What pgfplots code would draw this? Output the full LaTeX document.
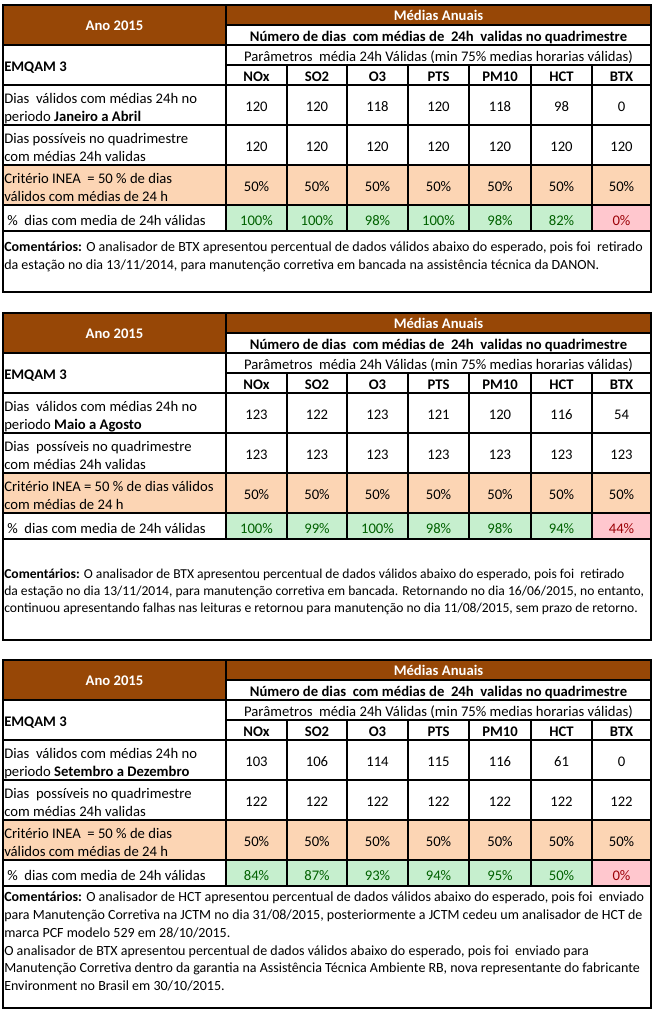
\documentclass[border=0pt]{standalone}
\usepackage{pgfplots}
\pgfplotsset{compat=1.18}
\usepackage{pgfplotstable}
\usepackage{fontspec}
\setmainfont{Carlito}
\definecolor{brownc}{RGB}{151,71,6}
\definecolor{orangec}{RGB}{252,213,180}
\definecolor{goodfill}{RGB}{198,239,206}
\definecolor{goodtext}{RGB}{0,97,0}
\definecolor{badfill}{RGB}{255,199,206}
\definecolor{badtext}{RGB}{156,0,6}
\newcommand\fs{\fontsize{11pt}{13pt}\selectfont}
\newcommand\fc{\fontsize{10.5pt}{12.5pt}\selectfont}
\newcommand\fcs{\fontsize{10.2pt}{12pt}\selectfont}
\tikzset{every node/.style={font=\fs, inner sep=0pt}, grid/.style={line width=0.8pt, black},
  cmtline/.style={anchor=base west, font=\fc}, cmtsmall/.style={anchor=base west, font=\fcs}}

% quadrimestre 1
\pgfplotstableread{
x     valid  poss  crit  pct
256.5 120    120   50    100
317   120    120   50    100
377.5 118    120   50    98
438.5 120    120   50    100
500   118    120   50    98
561.5 98     120   50    82
621.5 0      120   50    0
}\tabA
% quadrimestre 2
\pgfplotstableread{
x     valid  poss  crit  pct
256.5 123    123   50    100
317   122    123   50    99
377.5 123    123   50    100
438.5 121    123   50    98
500   120    123   50    98
561.5 116    123   50    94
621.5 54     123   50    44
}\tabB
% quadrimestre 3
\pgfplotstableread{
x     valid  poss  crit  pct
256.5 103    122   50    84
317   106    122   50    87
377.5 114    122   50    93
438.5 115    122   50    94
500   116    122   50    95
561.5 61     122   50    50
621.5 0      122   50    0
}\tabC

\pgfplotsset{vals/.style={only marks, mark=none,
  point meta=explicit symbolic, nodes near coords,
  every node near coord/.style={anchor=base, inner sep=0pt, font=\fs, text=black}}}

\newcommand\drawblock[7]{%
 \fill[brownc] (axis cs:3,{#1+5}) rectangle (axis cs:651,{#1+25});
 \fill[brownc] (axis cs:3,{#1+5}) rectangle (axis cs:226,{#1+45});
 \fill[orangec] (axis cs:3,{#1+165}) rectangle (axis cs:651,{#1+205});
 \fill[goodfill] (axis cs:226,{#1+205}) rectangle (axis cs:592,{#1+231});
 \fill[badfill] (axis cs:592,{#1+205}) rectangle (axis cs:651,{#1+231});
 \draw[grid] (axis cs:226,{#1+5}) -- (axis cs:226,{#1+231})
   (axis cs:226,{#1+25}) -- (axis cs:651,{#1+25})
   (axis cs:3,{#1+45}) -- (axis cs:651,{#1+45})
   (axis cs:226,{#1+65}) -- (axis cs:651,{#1+65})
   (axis cs:3,{#1+85}) -- (axis cs:651,{#1+85})
   (axis cs:3,{#1+125}) -- (axis cs:651,{#1+125})
   (axis cs:3,{#1+165}) -- (axis cs:651,{#1+165})
   (axis cs:3,{#1+205}) -- (axis cs:651,{#1+205})
   (axis cs:3,{#1+231}) -- (axis cs:651,{#1+231})
   (axis cs:287,{#1+65}) -- (axis cs:287,{#1+231})
   (axis cs:347,{#1+65}) -- (axis cs:347,{#1+231})
   (axis cs:408,{#1+65}) -- (axis cs:408,{#1+231})
   (axis cs:469,{#1+65}) -- (axis cs:469,{#1+231})
   (axis cs:531,{#1+65}) -- (axis cs:531,{#1+231})
   (axis cs:592,{#1+65}) -- (axis cs:592,{#1+231});
 \draw[line width=1.6pt] (axis cs:3,{#1+5}) rectangle (axis cs:651,#2);
 \node[anchor=base, text=white] at (axis cs:114.5,{#1+30}) {\textbf{Ano 2015}};
 \node[anchor=base, text=white] at (axis cs:438.5,{#1+20}) {\textbf{Médias Anuais}};
 \node[anchor=base] at (axis cs:438.5,{#1+41}) {\textbf{Número de dias\ \ com médias de\ \ 24h\ \ validas no quadrimestre}};
 \node[anchor=base] at (axis cs:438.5,{#1+61.5}) {Parâmetros\ \ média 24h Válidas (min 75\% medias horarias válidas)};
 \node[anchor=base] at (axis cs:256.5,{#1+81.5}) {\textbf{NOx}};
 \node[anchor=base] at (axis cs:317,{#1+81.5}) {\textbf{SO2}};
 \node[anchor=base] at (axis cs:377.5,{#1+81.5}) {\textbf{O3}};
 \node[anchor=base] at (axis cs:438.5,{#1+81.5}) {\textbf{PTS}};
 \node[anchor=base] at (axis cs:500,{#1+81.5}) {\textbf{PM10}};
 \node[anchor=base] at (axis cs:561.5,{#1+81.5}) {\textbf{HCT}};
 \node[anchor=base] at (axis cs:621.5,{#1+81.5}) {\textbf{BTX}};
 \node[anchor=base west] at (axis cs:4,{#1+71.5}) {\textbf{EMQAM 3}};
 \node[anchor=base west] at (axis cs:4,{#1+103}) {Dias\ \ válidos com médias 24h no};
 \node[anchor=base west] at (axis cs:4,{#1+121}) {periodo \textbf{#4}};
 \node[anchor=base west] at (axis cs:4,{#1+143}) {#5};
 \node[anchor=base west] at (axis cs:4,{#1+161}) {com médias 24h validas};
 \node[anchor=base west] at (axis cs:4,{#1+183}) {#6};
 \node[anchor=base west] at (axis cs:4,{#1+201}) {#7};
 \node[anchor=base west] at (axis cs:7,{#1+225}) {\%\ \ dias com media de 24h válidas};
 \addplot[vals] table[x=x, y expr={#1+111.5}, meta=valid] {#3};
 \addplot[vals] table[x=x, y expr={#1+151.5}, meta=poss] {#3};
 \addplot[vals, nodes near coords={\pgfplotspointmeta\%}] table[x=x, y expr={#1+191.5}, meta=crit] {#3};
 \addplot[vals, nodes near coords={\pgfplotspointmeta\%}, every node near coord/.append style={text=goodtext}, skip coords between index={6}{7}] table[x=x, y expr={#1+225}, meta=pct] {#3};
 \addplot[vals, nodes near coords={\pgfplotspointmeta\%}, every node near coord/.append style={text=badtext}, skip coords between index={0}{6}] table[x=x, y expr={#1+225}, meta=pct] {#3};
}

\begin{document}
\begin{tikzpicture}
\begin{axis}[scale only axis, width=489.75pt, height=757.5pt,
  xmin=0, xmax=653, ymin=0, ymax=1010, y dir=reverse, hide axis, clip=false]
\fill[white] (axis cs:0,0) rectangle (axis cs:653,1010);
\drawblock{0}{292}{\tabA}{Janeiro a Abril}{Dias possíveis no quadrimestre}{Critério INEA\ \ = 50 \% de dias}{válidos com médias de 24 h}
\drawblock{308}{640}{\tabB}{Maio a Agosto}{Dias\ \ possíveis no quadrimestre}{Critério INEA = 50 \% de dias válidos}{com médias de 24 h}
\drawblock{655}{1008}{\tabC}{Setembro a Dezembro}{Dias\ \ possíveis no quadrimestre}{Critério INEA\ \ = 50 \% de dias}{válidos com médias de 24 h}
% comments
\node[cmtline] at (axis cs:4,251) {\textbf{Comentários:} O analisador de BTX apresentou percentual de dados válidos abaixo do esperado, pois foi\ \ retirado};
\node[cmtline] at (axis cs:4,269) {da estação no dia 13/11/2014, para manutenção corretiva em bancada na assistência técnica da DANON.};
\node[cmtsmall] at (axis cs:4,578) {\textbf{Comentários:} O analisador de BTX apresentou percentual de dados válidos abaixo do esperado, pois foi\ \ retirado};
\node[cmtsmall] at (axis cs:4,595) {da estação no dia 13/11/2014, para manutenção corretiva em bancada. Retornando no dia 16/06/2015, no entanto,};
\node[cmtsmall] at (axis cs:4,612) {continuou apresentando falhas nas leituras e retornou para manutenção no dia 11/08/2015, sem prazo de retorno.};
\node[cmtline] at (axis cs:4,901) {\textbf{Comentários:} O analisador de HCT apresentou percentual de dados válidos abaixo do esperado, pois foi\ \ enviado};
\node[cmtline] at (axis cs:4,919) {para Manutenção Corretiva na JCTM no dia 31/08/2015, posteriormente a JCTM cedeu um analisador de HCT de};
\node[cmtline] at (axis cs:4,937) {marca PCF modelo 529 em 28/10/2015.};
\node[cmtline] at (axis cs:4,955) {O analisador de BTX apresentou percentual de dados válidos abaixo do esperado, pois foi\ \ enviado para};
\node[cmtline] at (axis cs:4,972) {Manutenção Corretiva dentro da garantia na Assistência Técnica Ambiente RB, nova representante do fabricante};
\node[cmtline] at (axis cs:4,990) {Environment no Brasil em 30/10/2015.};
\end{axis}
\end{tikzpicture}
\end{document}
